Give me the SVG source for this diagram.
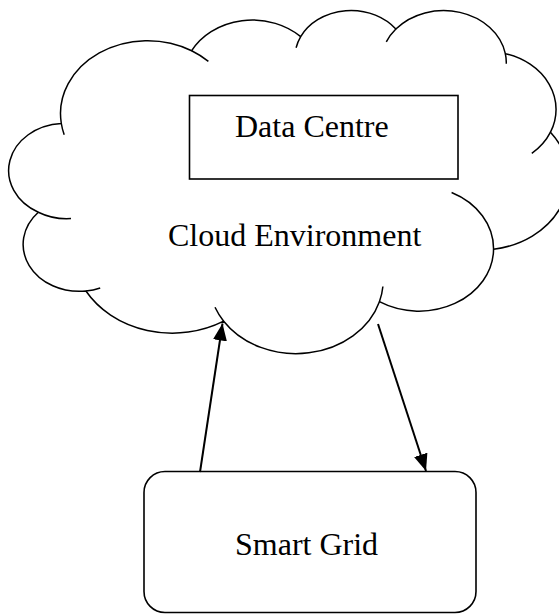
<svg xmlns="http://www.w3.org/2000/svg" width="559" height="615" viewBox="0 0 559 615">
  <defs>
    <style>
      .outline { fill: #ffffff; stroke: #000000; stroke-width: 1.5; stroke-linejoin: round; }
      .inner { fill: none; stroke: #000000; stroke-width: 1.5; stroke-linecap: butt; }
      .box { fill: #ffffff; stroke: #000000; stroke-width: 1.6; }
      .label { font-family: "Liberation Serif", "Times New Roman", serif; font-size: 32px; fill: #000000; }
      .conn { stroke: #000000; stroke-width: 2; fill: none; }
    </style>
    <marker id="arrow" markerUnits="userSpaceOnUse" markerWidth="17" markerHeight="14" refX="17" refY="7" orient="auto">
      <path d="M0,0 L17,7 L0,14 Z" fill="#000000"/>
    </marker>
  </defs>
  <rect x="0" y="0" width="559" height="615" fill="#ffffff"/>

  <g id="cloud-environment">
    <path class="outline" d="M 61.31 123.5
      A 87.11 72.97 0 0 1 191.68 50.71
      A 68.80 57.70 0 0 1 300.70 36.64
      A 56.31 47.20 0 0 1 395.87 29.09
      A 62.66 52.36 0 0 1 505.34 53.67
      A 68.80 57.75 0 0 1 550.49 132.14
      A 87.40 73.21 0 0 1 493.55 249.20
      A 74.63 62.46 0 0 1 379.41 301.69
      A 87.10 73.17 0 0 1 223.66 321.17
      A 99.59 83.71 0 0 1 85.94 291.03
      A 56.24 46.99 0 0 1 38.31 212.26
      A 56.05 47.20 0 0 1 61.31 123.5 Z"/>
    <path class="inner" d="M 71.0 218.6 A 56.05 47.20 0 0 1 38.31 212.26
      M 100.2 288.0 A 56.24 46.99 0 0 1 85.94 291.03
      M 223.66 321.17 A 87.10 73.17 0 0 1 215.0 307.3
      M 382.9 286.5 A 87.10 73.17 0 0 1 379.41 301.69
      M 451.6 192.5 A 74.63 62.46 0 0 1 493.55 249.20
      M 550.49 132.14 A 68.80 57.75 0 0 1 531.8 153.4
      M 505.34 53.67 A 62.66 52.36 0 0 1 506.3 63.7
      M 386.3 41.9 A 62.66 52.36 0 0 1 395.87 29.09
      M 296.1 47.7 A 56.31 47.20 0 0 1 300.70 36.64
      M 191.68 50.71 A 87.11 72.97 0 0 1 208.4 61.4
      M 64.2 134.7 A 87.11 72.97 0 0 1 61.31 123.5"/>
    <text class="label" x="168" y="246">Cloud Environment</text>
  </g>

  <g id="data-centre">
    <rect class="box" x="189.5" y="95.5" width="268.5" height="83.5"/>
    <text class="label" x="235" y="137">Data Centre</text>
  </g>

  <g id="smart-grid">
    <rect class="box" x="144" y="471.5" width="332" height="141" rx="21" ry="21"/>
    <text class="label" x="235" y="555">Smart Grid</text>
  </g>

  <g id="connectors">
    <line class="conn" x1="200" y1="472" x2="222.5" y2="323.5" marker-end="url(#arrow)"/>
    <line class="conn" x1="378" y1="324" x2="426" y2="471" marker-end="url(#arrow)"/>
  </g>
</svg>
